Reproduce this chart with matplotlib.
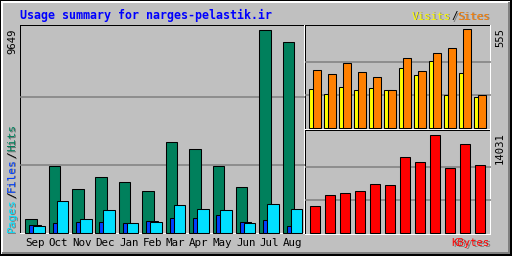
import matplotlib
matplotlib.use('Agg')
import matplotlib.pyplot as plt
import matplotlib.transforms as mtransforms
from matplotlib.patches import Rectangle
import numpy as np

# monthly usage data
months = ['Sep', 'Oct', 'Nov', 'Dec', 'Jan', 'Feb', 'Mar', 'Apr', 'May', 'Jun', 'Jul', 'Aug']
hits = [652, 3175, 2080, 2651, 2413, 1985, 4317, 3984, 3175, 2175, 9649, 9078]
files = [367, 462, 509, 509, 462, 557, 700, 700, 843, 509, 605, 319]
pages = [319, 1509, 652, 1080, 462, 509, 1318, 1128, 1080, 462, 1366, 1128]
visits = [221, 193, 232, 215, 227, 215, 340, 300, 379, 187, 311, 176]
sites = [328, 306, 368, 317, 289, 215, 396, 323, 425, 453, 555, 187]
kbytes = [3866, 5441, 5727, 6013, 7016, 6872, 10882, 10166, 14031, 9306, 12743, 9737]

BG = '#C0C0C0'
C_HITS, C_FILES, C_PAGES = '#00805C', '#0040FF', '#00E0FF'
C_VISITS, C_SITES, C_KB = '#FFFF00', '#FF8000', '#FF0000'
MONO = 'DejaVu Sans Mono'
W, H = 512, 256

fig = plt.figure(figsize=(W / 100, H / 100), dpi=100, facecolor=BG)

# overlay in pixel coordinates for frames and labels
ov = fig.add_axes([0, 0, 1, 1])
ov.set_xlim(0, W)
ov.set_ylim(H, 0)
ov.axis('off')


def box(x0, y0, x1, y1, c):
    ov.add_patch(Rectangle((x0, y0), x1 - x0, y1 - y0, color=c, lw=0))


# outer bevel
box(0, 0, W, 1, 'black')
box(0, 0, 1, H, 'black')
box(1, 1, W - 2, 3, 'white')
box(1, 1, 3, H - 2, 'white')
box(W - 4, 2, W - 2, H - 2, '#808080')
box(2, H - 4, W - 2, H - 2, '#808080')
box(W - 2, 0, W, H, 'black')
box(0, H - 2, W, H, 'black')


def panel(x0, y0, x1, y1, xs, sp, yb, ym, vmax):
    box(x0, y0, x1, y0 + 1, 'black')
    box(x0, y0, x0 + 1, y1, 'black')
    box(x0, y1 - 1, x1, y1, 'white')
    box(x1 - 1, y0, x1, y1, 'white')
    ax = fig.add_axes([x0 / W, 1 - y1 / H, (x1 - x0) / W, (y1 - y0) / H])
    ax.set_facecolor('none')
    ax.axis('off')
    ax.set_xlim((x0 - xs) / sp, (x1 - xs) / sp)
    s = vmax / (yb - ym)
    ax.set_ylim(-(y1 - yb) * s, vmax + (ym - y0) * s)
    for g in (vmax / 3, 2 * vmax / 3):
        ax.axhline(g, color='#808080', lw=1.1, zorder=0)
    return ax


x = np.arange(len(months))
bar_kw = dict(align='edge', edgecolor='black', linewidth=0.75)

# hits / files / pages
ax1 = panel(20, 25, 305, 234, 25.3, 23.4, 232.5, 29.5, max(hits))
ax1.bar(x, hits, 0.49, color=C_HITS, **bar_kw)
ax1.bar(x + 0.17, files, 0.49, color=C_FILES, **bar_kw)
ax1.bar(x + 0.34, pages, 0.49, color=C_PAGES, **bar_kw)

# visits / sites
ax2 = panel(305, 25, 491, 130, 309.3, 15, 127.8, 29.5, max(sites))
ax2.bar(x, visits, 0.49, color=C_VISITS, **bar_kw)
ax2.bar(x + 0.27, sites, 0.49, color=C_SITES, **bar_kw)

# kbytes
ax3 = panel(305, 130, 491, 235, 309.3, 15, 232.8, 134.5, max(kbytes))
ax3.bar(x + 0.05, kbytes, 0.67, color=C_KB, **bar_kw)

# month labels
tr = mtransforms.blended_transform_factory(ax1.transData, ov.transData)
for i, m in enumerate(months):
    ov.text(i + 0.42, 243, m, transform=tr, ha='center', va='center',
            fontsize=7.8, family=MONO, color='black')


def shadowed(px, py, s, c, fs, rot=0, ha='left', va='center'):
    ov.text(px + 1, py + 1, s, color='#7a7a7a', fontsize=fs, family=MONO,
            rotation=rot, ha=ha, va=va)
    ov.text(px, py, s, color=c, fontsize=fs, family=MONO,
            rotation=rot, ha=ha, va=va)


def multi(px, py, parts, cw, fs, vertical=False):
    off = 0
    for s, c in parts:
        if vertical:
            shadowed(px, py - off * cw, s, c, fs, rot=90, ha='center', va='bottom')
        else:
            shadowed(px + off * cw, py, s, c, fs, ha='left', va='center')
        off += len(s)


# title
ov.text(20, 15, 'Usage summary for narges-pelastik.ir', color='#0000FF',
        fontsize=8.4, family=MONO, fontweight='bold', ha='left', va='center')

# legends
leg_top = [('Visits', C_VISITS), ('/', 'black'), ('Sites', C_SITES)]
multi(490 - 12 * 6.5, 16.5, leg_top, 6.5, 7.8)
leg_left = [('Pages', C_PAGES), ('/', 'black'), ('Files', C_FILES), ('/', 'black'), ('Hits', C_HITS)]
multi(12, 232, leg_left, 6.75, 8.1, vertical=True)
shadowed(490, 243, 'KBytes', C_KB, 7.6, ha='right', va='center')

# max values
ov.text(12, 28, str(max(hits)), rotation=90, ha='center', va='top',
        fontsize=7.6, family=MONO, color='black')
ov.text(500, 28, str(max(sites)), rotation=90, ha='center', va='top',
        fontsize=7.6, family=MONO, color='black')
ov.text(500, 132, str(max(kbytes)), rotation=90, ha='center', va='top',
        fontsize=7.6, family=MONO, color='black')

fig.savefig('out.png', dpi=100, facecolor=BG)
